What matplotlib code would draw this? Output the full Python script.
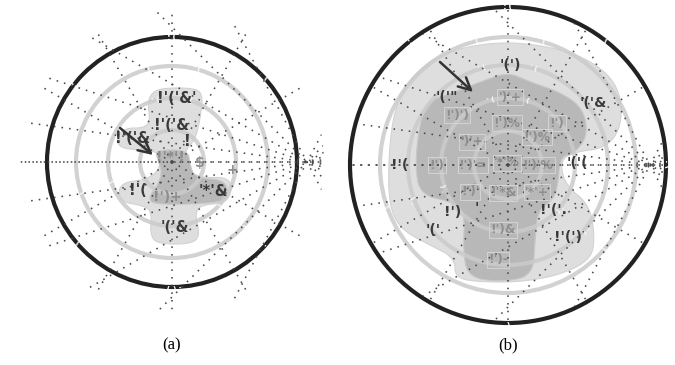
import numpy as np
import matplotlib
matplotlib.use("Agg")
import matplotlib.pyplot as plt
from matplotlib.patches import Circle, Polygon
from matplotlib.lines import Line2D

# ---------------- panel (a) ----------------
a_ring_radii = [32, 64, 96]
a_outer_radius = 125
a_light_region = [(-22, 67), (-12, 74), (23, 74), (31, 67), (28, 42), (23, 22), (13, 12),
                  (13, -6), (28, -16), (56, -15), (60, -28), (54, -41), (28, -43), (23, -53),
                  (28, -73), (20, -82), (-14, -82), (-22, -73), (-20, -48), (-32, -43),
                  (-50, -40), (-54, -28), (-47, -20), (-27, -18), (-12, -8), (-12, 10),
                  (-32, 12), (-52, 14), (-56, 24), (-47, 34), (-27, 34), (-22, 42), (-24, 57)]
a_dark_region = [(-17, 12), (16, 12), (18, -3), (23, -16), (53, -18), (56, -33), (50, -41),
                 (-17, -43), (-24, -36), (-14, -23), (-10, -10), (-14, 2)]
a_labels = ["!'('&'", "!'('&", "!", "!'('&", "!'*'!", "$", "+", "!'(", "!')+", "'*'&", "'('&"]
a_label_x = [5, 0, 15, -39, -2, 28, 60, -34, -5, 41, 3]
a_label_y = [64, 37, 21, 24, 5, -1, -8, -28, -35, -29, -65]
a_label_dark = [True, True, True, True, False, False, False, True, False, True, True]
a_arrow_tail = (-52, 34)
a_arrow_tip = (-19, 7)
a_rim_ticks = ["!'(", "!'", "'(", "!'(')", "'(", "!'"]
a_rim_angles = [90, 141, 42, 270, 220, -43]

# ---------------- panel (b) ----------------
b_ring_radii = [34, 67, 100, 128]
b_outer_radius = 158
b_light_region = [(-113, 55), (-103, 80), (-78, 105), (-48, 117), (-8, 123), (32, 120),
                  (72, 110), (102, 90), (114, 65), (112, 35), (97, 17), (67, 13), (52, 5),
                  (57, -20), (82, -40), (87, -75), (82, -95), (52, -110), (12, -117),
                  (-28, -117), (-53, -113), (-53, -93), (-78, -80), (-103, -67), (-116, -50),
                  (-120, -20), (-118, 25)]
b_dark_region = [(-88, 45), (-78, 65), (-53, 73), (-28, 83), (0, 93), (22, 83), (52, 73),
                 (75, 57), (80, 30), (67, 12), (52, 8), (50, -20), (45, -35), (30, -45),
                 (27, -75), (25, -110), (-3, -117), (-40, -113), (-45, -85), (-43, -48),
                 (-55, -37), (-88, -30), (-93, 0)]
b_labels = ["'(')", "'('\"", "')'+", "'('&", "!')')", "!')%", "!')", "')'+", "!')%",
            "!'(", "!')", "!')'=", "'*'%", "!')'%", "'('(", "!')'", "!'*&", "'*'+",
            "!')", "'", "!'('.", "'('", "!')&", "!'(')", "!')-"]
b_label_x = [2, -61, 2, 85, -51, -1, 49, -36, 29, -108, -71, -35, -1, 30, 69, -38, -5, 29,
             -55, -31, 45, -75, -5, 60, -10]
b_label_y = [100, 68, 68, 62, 50, 42, 42, 23, 28, 0, 0, 0, 2, 0, 2, -27, -28, -27, -47,
             -43, -45, -65, -65, -72, -95]
b_label_dark = [True, True, False, True, False, False, False, False, False, True, False,
                False, False, False, True, False, False, False, True, True, True, True,
                False, True, False]
b_arrow_tail = (-68, 103)
b_arrow_tip = (-35, 73)
b_rim_ticks = ["!'", "'(", "!'(", "'(", "!'("]
b_rim_angles = [128, 52, 90, 270, 0]

DARK_TEXT = "#3a3a3a"
LIGHT_TEXT = "#8e8e8e"
RING = "#cbcbcb"
RIM = "#222222"
LIGHT_FILL = "#dedede"
DARK_FILL = "#b8b8b8"
DOTS = "#4a4a4a"


def smooth(points, passes=3):
    """Chaikin corner cutting for a closed outline."""
    pts = np.asarray(points, dtype=float)
    for _ in range(passes):
        nxt = np.roll(pts, -1, axis=0)
        q = 0.75 * pts + 0.25 * nxt
        r = 0.25 * pts + 0.75 * nxt
        pts = np.empty((2 * len(q), 2))
        pts[0::2] = q
        pts[1::2] = r
    return pts


def dotted_grid(ax, pole_x, clip_radius):
    clip = Circle((0, 0), clip_radius, transform=ax.transData)
    style = dict(color=DOTS, lw=1.15, ls=(0, (1, 3.8)), zorder=6)
    # spokes from the centre
    for ang in range(0, 360, 30):
        t = np.radians(ang)
        ln = Line2D([0, clip_radius * np.cos(t)], [0, clip_radius * np.sin(t)], **style)
        ax.add_line(ln)
        ln.set_clip_path(clip)
    # fan of lines through the pole on the right
    for ang in [0, 8, -8, 18, -18, 30, -30, 45, -45, 62, -62]:
        t = np.radians(180 + ang)
        L = 2 * clip_radius + 40
        xs = [pole_x - L * np.cos(t), pole_x + L * np.cos(t)]
        ys = [-L * np.sin(t), L * np.sin(t)]
        ln = Line2D(xs, ys, **style)
        ax.add_line(ln)
        ln.set_clip_path(clip)


def draw_panel(ax, rings, outer, light, dark, labels, lx, ly, ldark, tail, tip,
               rim_ticks, rim_angles, pole_x, clip_radius, boxed, dark_size, light_size):
    ax.add_patch(Polygon(smooth(light), closed=True, facecolor=LIGHT_FILL,
                         edgecolor="#d2d2d2", lw=0.8, zorder=1))
    ax.add_patch(Polygon(smooth(dark), closed=True, facecolor=DARK_FILL,
                         edgecolor="#c8c8c8", lw=0.8, zorder=2))
    for r in rings:
        ax.add_patch(Circle((0, 0), r, fill=False, edgecolor=RING, lw=3.0,
                            alpha=0.85, zorder=3))
    ax.add_patch(Circle((0, 0), outer, fill=False, edgecolor=RIM, lw=3.0, zorder=4))
    for txt, ang in zip(rim_ticks, rim_angles):
        t = np.radians(ang)
        ax.text(outer * np.cos(t), outer * np.sin(t), txt, color="white", fontsize=6,
                fontweight="bold", ha="center", va="center", rotation=ang - 90, zorder=5)
    for r in rings[1:]:
        for ang in (75, 105, 200, 320):
            t = np.radians(ang)
            ax.text(r * np.cos(t), r * np.sin(t), "' (", color="white", fontsize=5,
                    fontweight="bold", ha="center", va="center", rotation=ang - 90,
                    zorder=4)
    dotted_grid(ax, pole_x, clip_radius)
    for txt, x, y, dk in zip(labels, lx, ly, ldark):
        kw = {}
        if boxed and not dk:
            kw["bbox"] = dict(boxstyle="square,pad=0.1", facecolor="none",
                              edgecolor="#d4d4d4", lw=0.7)
        ax.text(x, y, txt, color=DARK_TEXT if dk else LIGHT_TEXT,
                fontsize=dark_size if dk else light_size,
                fontweight="bold", family="DejaVu Sans", ha="center", va="center",
                zorder=7, **kw)
    ax.annotate("", xy=tip, xytext=tail, zorder=8,
                arrowprops=dict(arrowstyle="->", color="#333333", lw=1.8,
                                mutation_scale=22, shrinkA=0, shrinkB=0))


fig = plt.figure(figsize=(6.75, 3.65), dpi=100)

ax_a = fig.add_axes([0, 55 / 365, 340 / 675, 310 / 365])
ax_a.set_xlim(-172, 168)
ax_a.set_ylim(-148, 162)
draw_panel(ax_a, a_ring_radii, a_outer_radius, a_light_region, a_dark_region, a_labels,
           a_label_x, a_label_y, a_label_dark, a_arrow_tail, a_arrow_tip,
           a_rim_ticks, a_rim_angles, pole_x=135, clip_radius=152, boxed=False,
           dark_size=10.5, light_size=10)

ax_b = fig.add_axes([340 / 675, 35 / 365, 335 / 675, 330 / 365])
ax_b.set_xlim(-168, 167)
ax_b.set_ylim(-165, 165)
draw_panel(ax_b, b_ring_radii, b_outer_radius, b_light_region, b_dark_region, b_labels,
           b_label_x, b_label_y, b_label_dark, b_arrow_tail, b_arrow_tip,
           b_rim_ticks, b_rim_angles, pole_x=142, clip_radius=156, boxed=True,
           dark_size=10, light_size=8.8)

for ax in (ax_a, ax_b):
    ax.set_aspect("equal")
    ax.axis("off")

fig.text(172 / 675, 1 - 345 / 365, "(a)", ha="center", va="center", fontsize=12,
         family="Liberation Serif")
fig.text(508 / 675, 1 - 345 / 365, "(b)", ha="center", va="center", fontsize=12,
         family="Liberation Serif")

fig.savefig("out.png", dpi=100)
